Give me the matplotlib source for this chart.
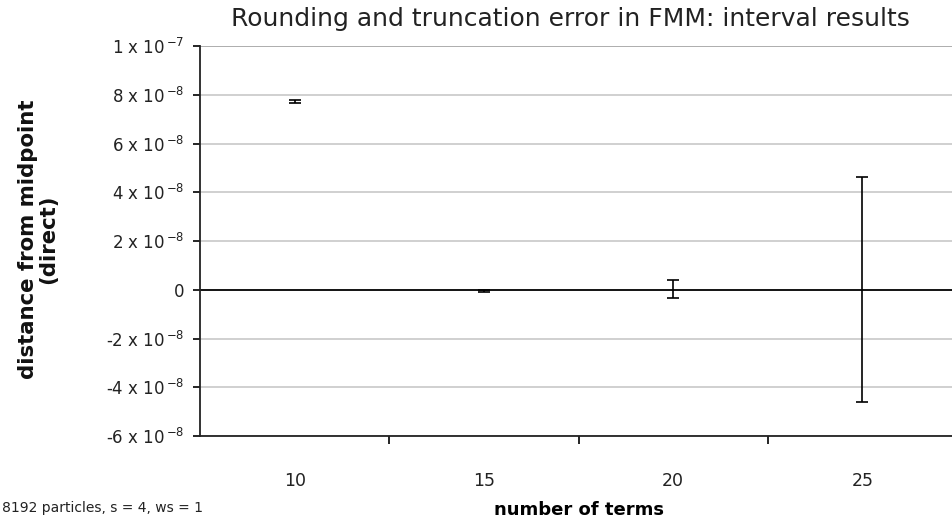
import matplotlib
matplotlib.use('Agg')
from matplotlib import pyplot as plt
from matplotlib.ticker import FixedLocator, FuncFormatter

# number of terms and interval results (distance from midpoint, direct)
terms = ['10', '15', '20', '25']
midpoints = [7.72e-8, -0.05e-8, 0.035e-8, 0.0]
half_widths = [0.05e-8, 0.05e-8, 0.365e-8, 4.62e-8]

y_ticks = [-6e-8, -4e-8, -2e-8, 0, 2e-8, 4e-8, 6e-8, 8e-8, 1e-7]


def sci_label(v, pos=None):
	if v == 0:
		return '0'
	exp = -7 if abs(v) >= 1e-7 - 1e-12 else -8
	mant = round(v / 10 ** exp)
	return f'{mant} x 10$^{{\\,{{-}}{abs(exp)}}}$'


plt.rcParams['font.family'] = 'DejaVu Sans'
plt.rcParams['mathtext.default'] = 'regular'

f1 = plt.figure(figsize=(9.53, 5.21), dpi=100)
ax = f1.add_axes([200 / 953, 1 - 436 / 521, 757 / 953, 390 / 521])

xs = list(range(1, len(terms) + 1))
for y in y_ticks:
	if y != 0:
		ax.axhline(y, color='#c8c8c8' if y < 1e-7 else '#a0a0a0', lw=1.2, zorder=0)
ax.axhline(0, color='black', lw=1.3, zorder=1)

ax.errorbar(xs, midpoints, yerr=half_widths, fmt='none', ecolor='black',
			elinewidth=1.2, capsize=4, capthick=1.2, zorder=3)

ax.set_xlim(0.5, len(terms) + 0.5)
ax.set_ylim(-6e-8, 1e-7)

ax.yaxis.set_major_locator(FixedLocator(y_ticks))
ax.yaxis.set_major_formatter(FuncFormatter(sci_label))
ax.tick_params(axis='y', which='major', length=5, width=1.2, labelsize=12, labelcolor='#222222', pad=6)

ax.set_xticks(xs)
ax.set_xticklabels(terms)
ax.set_xticks([x + 0.5 for x in xs[:-1]], minor=True)
ax.tick_params(axis='x', which='major', length=0, labelsize=12.5, labelcolor='#222222', pad=26)
ax.tick_params(axis='x', which='minor', length=6, width=1.2, direction='out')

for side in ('top', 'right'):
	ax.spines[side].set_visible(False)
for side in ('left', 'bottom'):
	ax.spines[side].set_linewidth(1.3)
	ax.spines[side].set_color('#222222')

ax.set_xlabel('number of terms', fontsize=13, fontweight='bold', labelpad=8)
f1.text(38 / 953, 1 - 239 / 521, 'distance from midpoint\n(direct)', rotation=90,
		ha='center', va='center', fontsize=15.3, fontweight='bold', linespacing=1.05,
		multialignment='center', color='#111111')

f1.text(570 / 953, 1 - 19 / 521, 'Rounding and truncation error in FMM: interval results',
		ha='center', va='center', fontsize=18, color='#222222')
f1.text(2 / 953, 1 - 508 / 521, '8192 particles, s = 4, ws = 1', ha='left', va='center',
		fontsize=10, color='#222222')

f1.savefig('out.png', dpi=100)
plt.close(f1)
